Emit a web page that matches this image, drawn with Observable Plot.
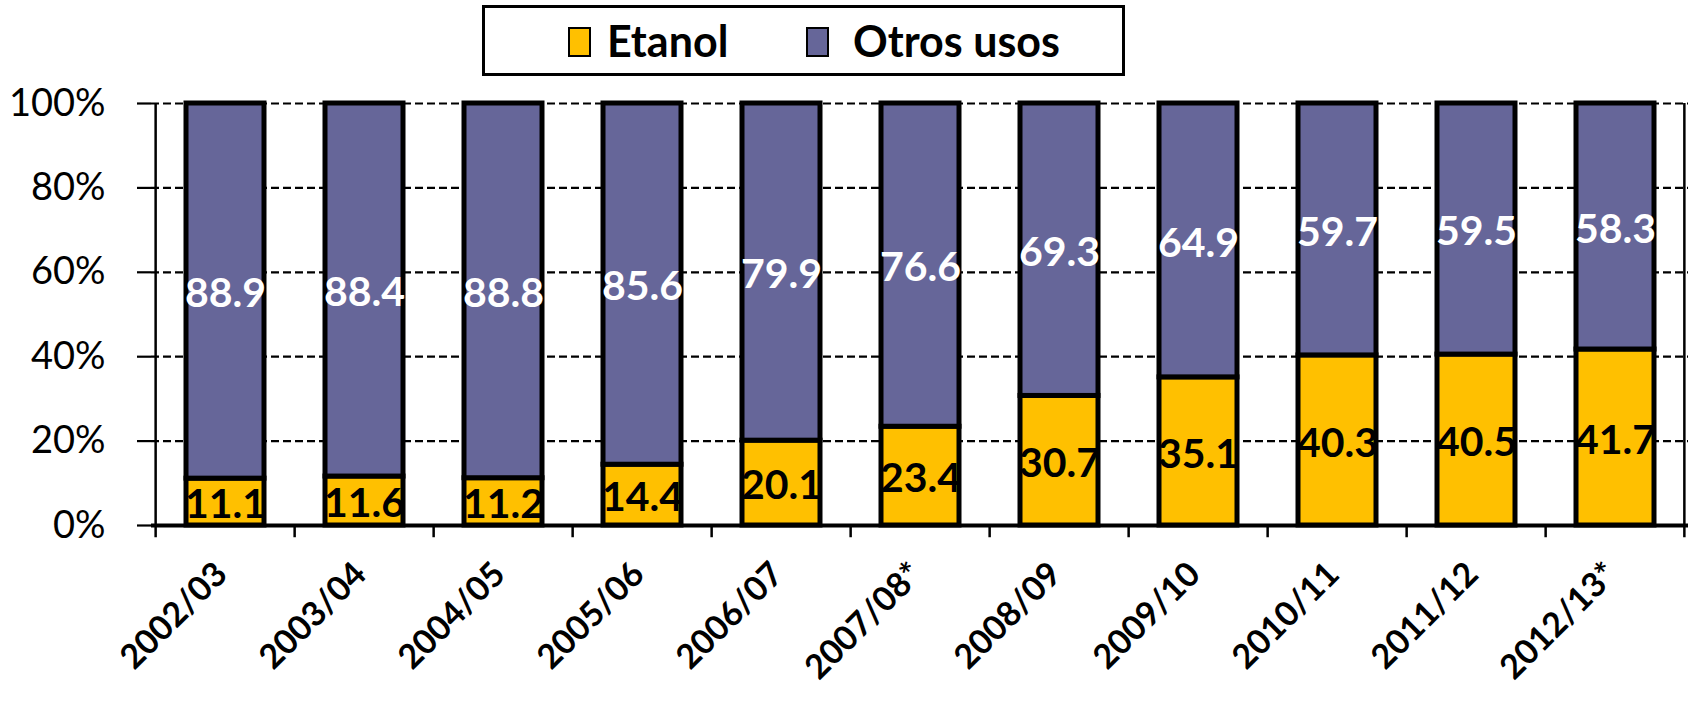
<!DOCTYPE html>
<html>
<head>
<meta charset="utf-8">
<script src="https://cdn.jsdelivr.net/npm/d3@7"></script>
<script src="https://cdn.jsdelivr.net/npm/@observablehq/plot@0.6"></script>
<style>
  html, body { margin: 0; padding: 0; background: #fff; }
  body { width: 1690px; height: 707px; overflow: hidden; font-family: Lato, "Open Sans", sans-serif; }
  #legend { position: relative; width: 1690px; height: 85px; }
  #legend .box { position: absolute; left: 482px; top: 5px; width: 643px; height: 71px; border: 3px solid #000; box-sizing: border-box; }
  #legend .sw { position: absolute; top: 27px; width: 23px; height: 30px; border: 2.5px solid #000; box-sizing: border-box; }
  #legend .lab { position: absolute; top: 14px; font-size: 43px; font-weight: bold; line-height: 54px; color: #000; white-space: nowrap; }
  #chart svg { display: block; }
</style>
</head>
<body>
<div id="legend"></div>
<div id="chart"></div>
<script>
const categories = ["2002/03","2003/04","2004/05","2005/06","2006/07","2007/08*","2008/09","2009/10","2010/11","2011/12","2012/13*"];
const etanol = [11.1, 11.6, 11.2, 14.4, 20.1, 23.4, 30.7, 35.1, 40.3, 40.5, 41.7];
const otros  = [88.9, 88.4, 88.8, 85.6, 79.9, 76.6, 69.3, 64.9, 59.7, 59.5, 58.3];
const seriesNames = ["Etanol", "Otros usos"];
const seriesColors = ["#FFC000", "#666699"];
const yTicks = [0, 20, 40, 60, 80, 100];

const rows = [];
categories.forEach((c, i) => {
  rows.push({year: c, series: seriesNames[0], value: etanol[i]});
  rows.push({year: c, series: seriesNames[1], value: otros[i]});
});

// Legend (HTML above the SVG)
const legend = document.getElementById("legend");
legend.innerHTML = `<div class="box"></div>
  <div class="sw" style="left:568px;background:${seriesColors[0]}"></div>
  <div class="lab" style="left:607px">${seriesNames[0]}</div>
  <div class="sw" style="left:806px;background:${seriesColors[1]}"></div>
  <div class="lab" style="left:853px">${seriesNames[1]}</div>`;

const W = 1690, H = 622;
const mL = 151, mR = 2, mT = 18, mB = 182;
const step = (W - mL - mR) / categories.length;

const chart = Plot.plot({
  width: W,
  height: H,
  marginLeft: mL,
  marginRight: mR,
  marginTop: mT,
  marginBottom: mB,
  style: {fontFamily: "Lato, 'Open Sans', sans-serif", background: "#fff", overflow: "visible"},
  x: {domain: categories, paddingInner: 0.44, paddingOuter: 0.22, axis: null},
  y: {domain: [0, 100], axis: null},
  color: {domain: seriesNames, range: seriesColors},
  marks: [
    // dashed grid
    Plot.ruleY(yTicks.filter(d => d > 0), {y: d => d, stroke: "#000", strokeWidth: 2.2, strokeDasharray: "8,4"}),
    // y axis ticks + labels
    Plot.axisY({ticks: yTicks, label: null, tickSize: 14, tickPadding: 32, tickFormat: d => d + "%", fontSize: 38, stroke: "#000", strokeWidth: 2.2, color: "#000"}),
    // bars
    Plot.barY(rows, {x: "year", y: "value", fill: "series", stroke: "#000", strokeWidth: 5}),
    // value labels
    Plot.text(rows, Plot.stackY({
      x: "year", y: "value", z: "series",
      text: d => d.value.toFixed(1),
      fill: d => d.series === seriesNames[0] ? "#000" : "#fff",
      fontSize: 41, fontWeight: "bold", dy: 3
    })),
    // x axis line
    Plot.ruleY([0], {stroke: "#000", strokeWidth: 4}),
    // left axis line
    Plot.ruleX([categories[0]], {dx: -step / 2, y1: -2.9, y2: 100, stroke: "#000", strokeWidth: 2.5}),
    // right border line
    Plot.ruleX([categories[categories.length - 1]], {dx: step / 2 - 1, y1: -2.9, y2: 100, stroke: "#000", strokeWidth: 2.5}),
    // x ticks at band boundaries
    Plot.ruleX(categories.slice(1), {dx: -step / 2, y1: -2.9, y2: 0, stroke: "#000", strokeWidth: 2.5}),
    // rotated x labels
    Plot.text(categories, {x: d => d, frameAnchor: "bottom", text: d => d, rotate: -45, textAnchor: "end", lineAnchor: "middle", dx: -4, dy: 43, fontSize: 34, fontWeight: "bold", fill: "#000"})
  ]
});
document.getElementById("chart").appendChild(chart);
</script>
</body>
</html>
